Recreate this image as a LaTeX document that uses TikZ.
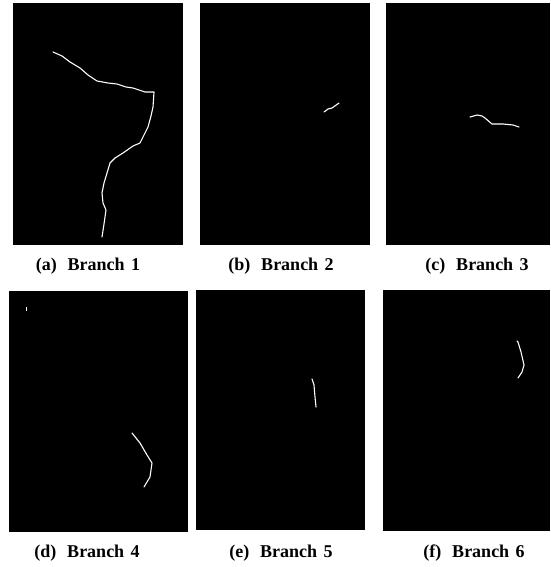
\documentclass[tikz,border=0pt]{standalone}
\usepackage{fontspec}
\setmainfont{Liberation Serif}
\usepackage{tikz}

\begin{document}
\begin{tikzpicture}[
    x=1pt, y=-1pt,
    panel/.style={
        rectangle,
        fill=black,
        inner sep=0pt,
        anchor=north west
    },
    caption/.style={
        font=\fontsize{18}{20}\selectfont\bfseries,
        inner sep=0pt
    },
    branch/.style={
        draw=white,
        line width=1.1pt,
        line join=round,
        line cap=round
    }
    ]
    \useasboundingbox[fill=white] (0,0) rectangle (550,567);

    % top row
    \node[panel, minimum width=170pt, minimum height=242pt] (pa) at (13,3) {};
    \node[panel, minimum width=170pt, minimum height=242pt] (pb) at (200,3) {};
    \node[panel, minimum width=164pt, minimum height=242pt] (pc) at (386,3) {};
    % bottom row
    \node[panel, minimum width=179pt, minimum height=241pt] (pd) at (9,291) {};
    \node[panel, minimum width=169pt, minimum height=240pt] (pe) at (196,290) {};
    \node[panel, minimum width=167pt, minimum height=241pt] (pf) at (383,290) {};

    \node[caption] (ca) at (88,266) {(a)\hspace{0.6em}Branch\hspace{0.35em}1};
    \node[caption] (cb) at (281,266) {(b)\hspace{0.6em}Branch\hspace{0.35em}2};
    \node[caption] (cc) at (477,266) {(c)\hspace{0.6em}Branch\hspace{0.35em}3};
    \node[caption] (cd) at (87,553) {(d)\hspace{0.6em}Branch\hspace{0.35em}4};
    \node[caption] (ce) at (281,553) {(e)\hspace{0.6em}Branch\hspace{0.35em}5};
    \node[caption] (cf) at (474,553) {(f)\hspace{0.6em}Branch\hspace{0.35em}6};

    % branches
    \draw[branch] (53,52) -- (62,56) -- (70,62) -- (80,68) -- (88,75)
        -- (97,81) -- (108,83) -- (117,84) -- (126,87) -- (133,88)
        -- (145,92) -- (154,92) -- (153,107) -- (151,116) -- (148,127)
        -- (144,135) -- (140,143) -- (133,146) -- (123,153) -- (115,158)
        -- (110,163) -- (107,173) -- (104,183) -- (102,193) -- (103,203)
        -- (106,210) -- (104,224) -- (102,237);
    \draw[branch] (324,112) -- (328,109) -- (332,108) -- (339,103);
    \draw[branch] (470,117) -- (477,115) -- (482,116) -- (485,118)
        -- (492,124) -- (503,124) -- (513,125) -- (519,127);
    \fill[white] (25.5,307) rectangle (27,311);
    \draw[branch] (132,433) -- (140,443) -- (147,455) -- (152,463)
        -- (150,477) -- (147,482) -- (144,487);
    \draw[branch] (312,379) -- (314,385) -- (315,397) -- (316,407);
    \draw[branch] (517,341) -- (518,342) -- (521,352) -- (524,365)
        -- (522,372) -- (518,378);
\end{tikzpicture}
\end{document}
